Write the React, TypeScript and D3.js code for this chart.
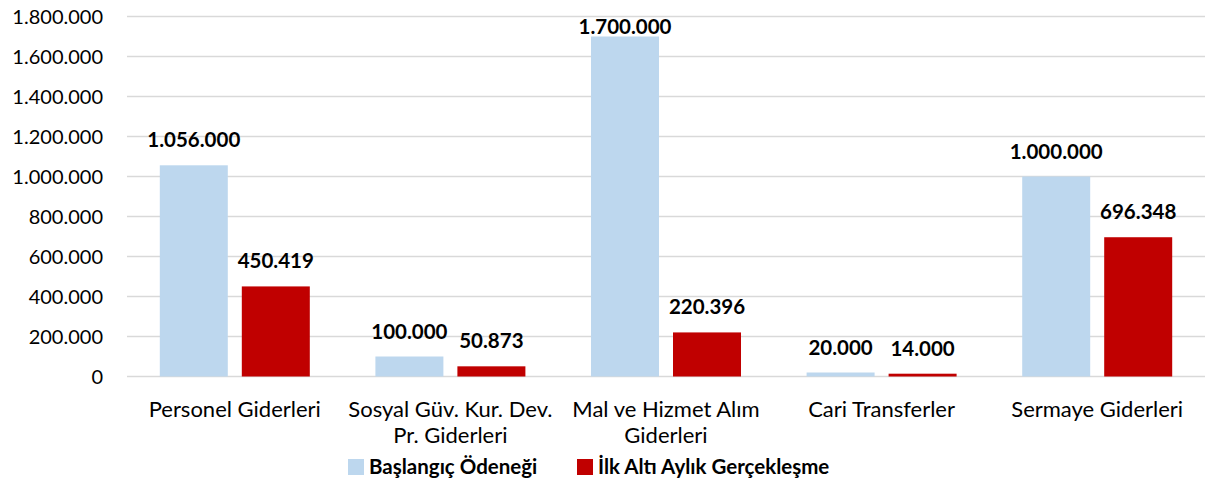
import React from "react";
import * as d3 from "d3";

const categories: string[][] = [
  ["Personel Giderleri"],
  ["Sosyal Güv. Kur. Dev.", "Pr. Giderleri"],
  ["Mal ve Hizmet Alım", "Giderleri"],
  ["Cari Transferler"],
  ["Sermaye Giderleri"],
];
const seriesNames = ["Başlangıç Ödeneği", "İlk Altı Aylık Gerçekleşme"];
const baslangic = [1056000, 100000, 1700000, 20000, 1000000];
const gerceklesme = [450419, 50873, 220396, 14000, 696348];
const yTicks = [0, 200000, 400000, 600000, 800000, 1000000, 1200000, 1400000, 1600000, 1800000];
const colors = ["#BDD7EE", "#C00000"];

const W = 1207;
const H = 481;
const left = 127;
const right = 1205;
const top = 16.5;
const bottom = 376.5;
const font = "Lato, 'Open Sans', sans-serif";

const fmt = (v: number) => d3.format(",")(v).replace(/,/g, ".");

export default function App() {
  const x = d3.scaleBand<number>().domain(d3.range(categories.length)).range([left, right]);
  const y = d3.scaleLinear().domain([0, 1800000]).range([bottom, top]);
  const bw = x.bandwidth();
  const barW = 68;
  const gap = 14;
  const series = [baslangic, gerceklesme];
  return (
    <svg width={W} height={H} style={{ position: "absolute", left: 0, top: 0, fontFamily: font }}>
      <rect width={W} height={H} fill="#fff" />
      {yTicks.map((t) => (
        <g key={t}>
          <line x1={left} x2={right} y1={y(t)} y2={y(t)} stroke="#D9D9D9" strokeWidth={1.5} />
          <text x={103} y={y(t)} dy="0.35em" textAnchor="end" fontSize={20} fill="#000">
            {fmt(t)}
          </text>
        </g>
      ))}
      {categories.map((c, i) => (
        <g key={i} transform={`translate(${x(i)},0)`}>
          {series.map((s, j) => {
            const bx = bw / 2 - barW - gap / 2 + j * (barW + gap);
            const by = y(s[i]);
            const ly = Math.max(by - 18, 34);
            return (
              <g key={j}>
                <rect x={bx} y={by} width={barW} height={bottom - by} fill={colors[j]} />
                <text x={bx + barW / 2} y={ly} textAnchor="middle" fontSize={20.5} fontWeight="bold" fill="#000">
                  {fmt(s[i])}
                </text>
              </g>
            );
          })}
          {c.map((line, k) => (
            <text key={k} x={bw / 2} y={417 + k * 26} textAnchor="middle" fontSize={22} fill="#000">
              {line}
            </text>
          ))}
        </g>
      ))}
      <g transform="translate(348,459)">
        <rect x={0} y={0} width={16} height={16} fill={colors[0]} />
        <text x={21} y={15} fontSize={20.5} fontWeight="bold">{seriesNames[0]}</text>
        <rect x={229} y={0} width={16} height={16} fill={colors[1]} />
        <text x={250} y={15} fontSize={20.5} fontWeight="bold">{seriesNames[1]}</text>
      </g>
    </svg>
  );
}
